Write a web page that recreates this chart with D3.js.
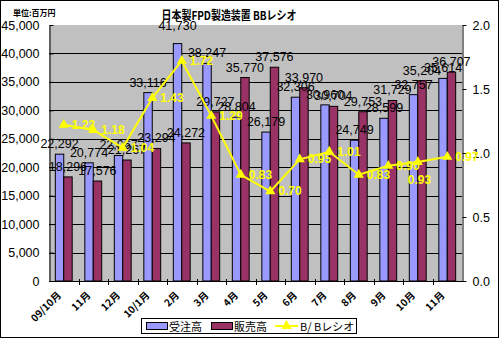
<!DOCTYPE html>
<html><head><meta charset="utf-8">
<script src="https://cdn.jsdelivr.net/npm/d3@7/dist/d3.min.js"></script>
<style>
body{margin:0;background:#fff;}
svg{display:block;}
.num{font-family:'Liberation Sans Narrow','Arial Narrow','Liberation Sans',Arial,sans-serif;}
.jp{font-family:'Noto Sans CJK JP','Noto Sans',sans-serif;}
</style></head>
<body>
<svg id="c" width="500" height="340"></svg>
<script>
const categories = ["09/10月","11月","12月","10/1月","2月","3月","4月","5月","6月","7月","8月","9月","10月","11月"];
const orders = [22292,20774,22067,33116,41730,38247,28804,26179,32306,30960,24749,28599,32757,35614];
const sales  = [18296,17576,21267,23294,24272,29727,35770,37576,33970,30704,29753,31729,35204,36707];
const bbRatio = [1.22,1.18,1.04,1.43,1.72,1.29,0.83,0.70,0.95,1.01,0.83,0.90,0.93,0.97];
const leftTicks = [0,5000,10000,15000,20000,25000,30000,35000,40000,45000];
const rightTicks = [0,0.5,1.0,1.5,2.0];
const seriesNames = ["受注高","販売高","B/ Bレシオ"];
const title = "日本製FPD製造装置 BBレシオ";
const unitLabel = "単位:百万円";

const svg = d3.select("#c");
const L = 49, R = 462, T = 25, B = 281;
const colors = {orders:"#9999FF", sales:"#993366", line:"#FFFF00", plot:"#C0C0C0"};

// categories repeat (11月, 10月), so the band scale is keyed by index
const x0 = d3.scaleBand().domain(d3.range(categories.length)).range([L,R]).padding(0);
const bw = x0.bandwidth(), barW = bw/3.5;
const x1 = d3.scaleBand().domain(["orders","sales"]).range([0.75*barW, 2.75*barW]).padding(0);
const y = d3.scaleLinear().domain([0,45000]).range([B,T]);
const y2 = d3.scaleLinear().domain([0,2]).range([B,T]);

svg.append("rect").attr("x",0.5).attr("y",0.5).attr("width",498).attr("height",337)
  .attr("fill","#fff").attr("stroke","#000");

svg.append("rect").attr("x",L).attr("y",T).attr("width",R-L).attr("height",B-T).attr("fill",colors.plot);

svg.append("g").selectAll("line").data(leftTicks.filter(d=>d>0 && d<45000)).join("line")
  .attr("x1",L).attr("x2",R).attr("y1",d=>Math.round(y(d))+0.5).attr("y2",d=>Math.round(y(d))+0.5)
  .attr("stroke","#000").attr("stroke-width",1);

const rows = categories.map((c,i)=>({c,i,orders:orders[i],sales:sales[i],ratio:bbRatio[i]}));
const g = svg.append("g");
["orders","sales"].forEach(k=>{
  g.selectAll("rect."+k).data(rows).join("rect").attr("class",k)
    .attr("x",d=>x0(d.i)+x1(k)).attr("width",x1.bandwidth())
    .attr("y",d=>y(d[k])).attr("height",d=>B-y(d[k]))
    .attr("fill",colors[k]).attr("stroke","#000").attr("stroke-width",1);
});

const ax = d3.axisLeft(y).tickValues(leftTicks).tickFormat(d3.format(",")).tickSizeInner(-4).tickSizeOuter(0).tickPadding(10);
const gl = svg.append("g").attr("transform",`translate(${L+0.5},0)`).call(ax);
gl.select(".domain").attr("stroke","#000");
gl.selectAll("text").attr("class","num").attr("font-size","12.5px").attr("fill","#000");
gl.attr("font-family",null);

const ar = d3.axisRight(y2).tickValues(rightTicks).tickFormat(d3.format(".1f")).tickSizeInner(4).tickSizeOuter(0).tickPadding(6);
const gr = svg.append("g").attr("transform",`translate(${R+0.5},0)`).call(ar);
gr.selectAll("text").attr("class","num").attr("font-size","12.5px").attr("fill","#000");
gr.attr("font-family",null);

svg.append("line").attr("x1",L).attr("x2",R+1).attr("y1",B+0.5).attr("y2",B+0.5).attr("stroke","#000");
svg.append("g").selectAll("line").data(d3.range(1,categories.length)).join("line")
  .attr("x1",d=>Math.round(x0(d))+0.5).attr("x2",d=>Math.round(x0(d))+0.5)
  .attr("y1",B-2).attr("y2",B+4).attr("stroke","#000");

svg.append("g").selectAll("text").data(rows).join("text")
  .attr("class","jp").attr("font-size","10px").attr("font-weight","bold").attr("text-anchor","end")
  .attr("transform",d=>`translate(${x0(d.i)+bw/2-2},${B+15}) rotate(-45)`)
  .text(d=>d.c);

const fmt = d3.format(",");
["orders","sales"].forEach(k=>{
  g.selectAll("text."+k).data(rows).join("text").attr("class","num "+k)
    .attr("font-size","12.5px").attr("text-anchor","middle")
    .attr("x",d=>x0(d.i)+x1(k)+x1.bandwidth()/2)
    .attr("y",d=>y(d[k]) - ((k==="orders"&&d.i===4)?14:6))
    .text(d=>fmt(d[k]));
});

const line = d3.line().x(d=>x0(d.i)+bw/2).y(d=>y2(d.ratio));
svg.append("path").datum(rows).attr("d",line).attr("fill","none").attr("stroke",colors.line).attr("stroke-width",2);
svg.append("g").selectAll("path").data(rows).join("path")
  .attr("d",d3.symbol(d3.symbolTriangle,45))
  .attr("transform",d=>`translate(${x0(d.i)+bw/2},${y2(d.ratio)})`)
  .attr("fill",colors.line);
svg.append("g").selectAll("text").data(rows).join("text")
  .attr("font-family","'Liberation Sans',Arial,sans-serif").attr("font-weight","bold").attr("font-size","12px")
  .attr("fill",colors.line)
  .attr("x",d=>x0(d.i)+bw/2+(d.i===12?-10:8))
  .attr("y",d=>y2(d.ratio)+(d.i===12?22:4))
  .text(d=>d.ratio.toFixed(2));

svg.append("text").attr("class","jp").attr("x",229).attr("y",20).attr("text-anchor","middle")
  .attr("font-size","12px").attr("font-weight","bold").attr("textLength",135).attr("lengthAdjust","spacingAndGlyphs")
  .text(title);
svg.append("text").attr("class","jp").attr("x",13).attr("y",16).attr("font-size","8px").attr("font-weight","bold")
  .text(unitLabel);

const lg = svg.append("g");
lg.append("rect").attr("x",141.5).attr("y",318.5).attr("width",215).attr("height",15).attr("fill","#fff").attr("stroke","#000");
const legendItems = [{k:"orders",x:146,name:seriesNames[0]},{k:"sales",x:211,name:seriesNames[1]},{k:"line",x:275,name:seriesNames[2]}];
legendItems.forEach(it=>{
  if(it.k!=="line"){
    lg.append("rect").attr("x",it.x+0.5).attr("y",322.5).attr("width",21).attr("height",7).attr("fill",colors[it.k]).attr("stroke","#000");
  } else {
    lg.append("line").attr("x1",it.x).attr("x2",it.x+23).attr("y1",326).attr("y2",326).attr("stroke",colors.line).attr("stroke-width",2);
    lg.append("path").attr("d",d3.symbol(d3.symbolTriangle,45)).attr("transform",`translate(${it.x+11.5},326)`).attr("fill",colors.line);
  }
  lg.append("text").attr("class","jp").attr("x",it.x+(it.k==="line"?25:23)).attr("y",330.5).attr("font-size","11px").text(it.name);
});
</script>
</body></html>
